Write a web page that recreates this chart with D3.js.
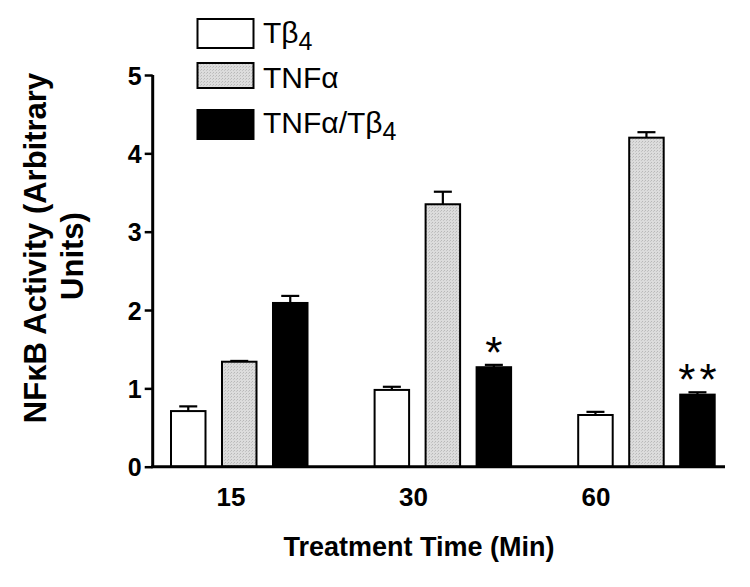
<!DOCTYPE html>
<html>
<head>
<meta charset="utf-8">
<script src="https://cdn.jsdelivr.net/npm/d3@7"></script>
<style>
  html, body { margin: 0; padding: 0; background: #fff; }
  text { font-family: "Liberation Sans", Arial, Helvetica, sans-serif; fill: #000; }
</style>
</head>
<body>
<svg id="chart" width="750" height="587"></svg>
<script>
// ---- data ----
const groups = ["15", "30", "60"];
const seriesNames = ["Tb4", "TNFa", "TNFa/Tb4"];
const valuesTb4 = [0.71, 0.98, 0.66];
const valuesTNFa = [1.34, 3.35, 4.20];
const valuesCombo = [2.09, 1.27, 0.92];
const errTb4 = [0.06, 0.04, 0.04];
const errTNFa = [0.01, 0.16, 0.07];
const errCombo = [0.09, 0.03, 0.03];
const significance = ["", "*", "**"];
const yTicks = [0, 1, 2, 3, 4, 5];

const allValues = [valuesTb4, valuesTNFa, valuesCombo];
const allErr = [errTb4, errTNFa, errCombo];
const fills = ["#ffffff", "#d6d6d6", "#000000"];

const svg = d3.select("#chart");

// ---- scales ----
const y = d3.scaleLinear().domain([0, 5]).range([466.7, 75]);
const x0 = d3.scaleBand().domain(groups).range([137.7, 748.5]);
const x1 = d3.scaleBand().domain(seriesNames).range([33.3, 169.8]).paddingInner(0.3235).paddingOuter(0);
const xLabel = d3.scalePoint().domain(groups).range([231, 596]);

// stipple pattern for grey bars
const defs = svg.append("defs");
const pat = defs.append("pattern").attr("id", "stip").attr("width", 3).attr("height", 3)
  .attr("patternUnits", "userSpaceOnUse");
pat.append("rect").attr("width", 3).attr("height", 3).attr("fill", "#dcdcdc");
pat.append("rect").attr("x", 0).attr("y", 0).attr("width", 1).attr("height", 1).attr("fill", "#b8b8b8");
pat.append("rect").attr("x", 2).attr("y", 1).attr("width", 1).attr("height", 1).attr("fill", "#c4c4c4");
const fillFor = i => i === 1 ? "url(#stip)" : fills[i];

// ---- bars ----
const data = [];
groups.forEach((g, gi) => {
  seriesNames.forEach((s, si) => {
    data.push({ g, s, si, v: allValues[si][gi], e: allErr[si][gi], sig: si === 2 ? significance[gi] : "" });
  });
});

const bw = x1.bandwidth();
const bars = svg.append("g");
bars.selectAll("rect").data(data).join("rect")
  .attr("x", d => x0(d.g) + x1(d.s))
  .attr("y", d => y(d.v))
  .attr("width", bw)
  .attr("height", d => y(0) - y(d.v))
  .attr("fill", d => fillFor(d.si))
  .attr("stroke", "#000")
  .attr("stroke-width", 2);

// error bars (upper only)
const eb = svg.append("g").attr("stroke", "#000").attr("stroke-width", 2.2);
data.forEach(d => {
  const cx = x0(d.g) + x1(d.s) + bw / 2;
  eb.append("line").attr("x1", cx).attr("x2", cx).attr("y1", y(d.v)).attr("y2", y(d.v + d.e));
  eb.append("line").attr("x1", cx - 9).attr("x2", cx + 9).attr("y1", y(d.v + d.e)).attr("y2", y(d.v + d.e));
});

// significance
svg.append("g").selectAll("text").data(data.filter(d => d.sig)).join("text")
  .attr("x", d => x0(d.g) + x1(d.s) + bw / 2 + (d.sig.length > 1 ? 2 : 0))
  .attr("y", d => y(d.v + d.e) + 3)
  .attr("text-anchor", "middle")
  .attr("font-size", 44)
  .attr("letter-spacing", d => d.sig.length > 1 ? 4 : 0)
  .text(d => d.sig);

// ---- axes ----
const yAxis = d3.axisLeft(y).tickValues(yTicks).tickSize(8).tickPadding(3).tickFormat(d3.format("d"));
const gy = svg.append("g").attr("transform", "translate(152.7,0)").call(yAxis);
gy.select(".domain").attr("stroke-width", 3).attr("d", `M0,${y(5)}V${y(0)}`);
gy.selectAll(".tick line").attr("stroke-width", 2.5);
gy.selectAll(".tick text").attr("font-size", 25).attr("font-weight", "bold")
  .attr("font-family", "Liberation Sans, Arial, sans-serif").attr("dy", "0.36em");

// x baseline
svg.append("line").attr("x1", 151.2).attr("x2", 725).attr("y1", y(0)).attr("y2", y(0))
  .attr("stroke", "#000").attr("stroke-width", 3);

// x tick labels
svg.append("g").selectAll("text").data(groups).join("text")
  .attr("x", d => xLabel(d)).attr("y", 506)
  .attr("text-anchor", "middle").attr("font-size", 26).attr("font-weight", "bold")
  .text(d => d);

// x title
svg.append("text").attr("x", 419).attr("y", 556).attr("text-anchor", "middle")
  .attr("font-size", 27).attr("font-weight", "bold").text("Treatment Time (Min)");

// y title (two lines)
svg.append("text").attr("transform", "translate(46,248) rotate(-90)")
  .attr("text-anchor", "middle").attr("font-size", 31).attr("font-weight", "bold")
  .text("NF\u03BAB Activity (Arbitrary");
svg.append("text").attr("transform", "translate(83,256) rotate(-90)")
  .attr("text-anchor", "middle").attr("font-size", 31).attr("font-weight", "bold")
  .text("Units)");

// ---- legend ----
const legendY = [19, 63, 110];
const legendH = [29, 25, 29];
const lg = svg.append("g");
seriesNames.forEach((s, i) => {
  lg.append("rect").attr("x", 197.5).attr("y", legendY[i]).attr("width", 56).attr("height", legendH[i])
    .attr("fill", fillFor(i)).attr("stroke", "#000").attr("stroke-width", 2);
});
const legendBase = [43, 88, 133];
function legendText(i, parts) {
  const t = lg.append("text").attr("x", 263).attr("y", legendBase[i]).attr("font-size", 30);
  parts.forEach(p => {
    if (p.sub) {
      t.append("tspan").attr("font-size", 25).attr("dy", 7).text(p.t);
    } else {
      t.append("tspan").text(p.t);
    }
  });
}
legendText(0, [{t: "T\u03B2"}, {t: "4", sub: true}]);
legendText(1, [{t: "TNF\u03B1"}]);
legendText(2, [{t: "TNF\u03B1/T\u03B2"}, {t: "4", sub: true}]);
</script>
</body>
</html>
